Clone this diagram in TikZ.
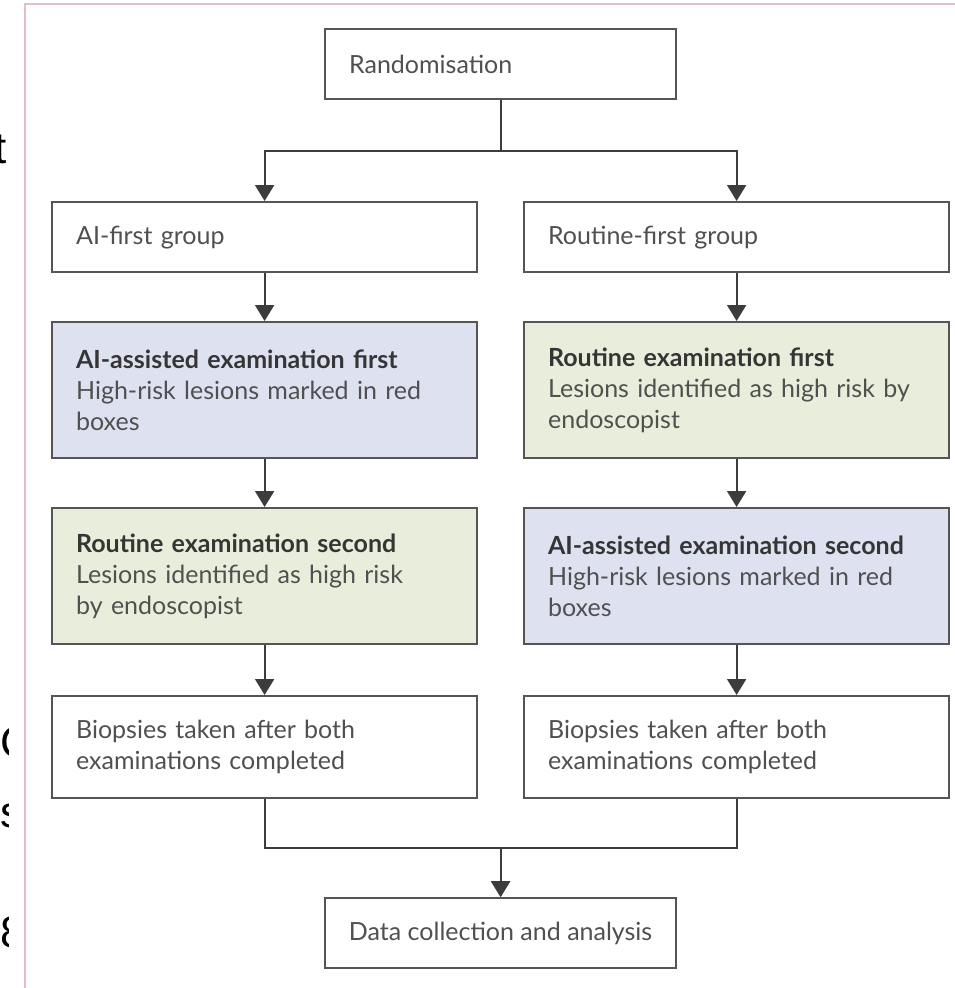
\documentclass[tikz,border=0pt]{standalone}
\usepackage{fontspec}
\setmainfont{Lato}
\newfontfamily\fragfont{Liberation Sans}
\usetikzlibrary{arrows.meta}
\definecolor{boxgray}{HTML}{555555}
\definecolor{linegray}{HTML}{3C3C3C}
\definecolor{txtgray}{HTML}{505050}
\definecolor{hdgray}{HTML}{353535}
\definecolor{bluefill}{HTML}{DEE1F0}
\definecolor{greenfill}{HTML}{E9EEDC}
\definecolor{pinkframe}{HTML}{E2BECA}
\tikzset{
  box/.style={draw=boxgray, line width=2.2pt, fill=white, inner xsep=24pt, inner ysep=0pt,
    align=left, anchor=north west, text=txtgray,
    font={\fontsize{25}{31}\selectfont}},
  arr/.style={draw=linegray, line width=2pt, -{Triangle[length=16pt,width=19pt]}},
  fragstyle/.style={inner sep=0pt, font={\fontsize{44}{44}\fragfont}}
}
\newcommand{\hdtext}[1]{{\bfseries\color{hdgray}#1}}
\begin{document}
\begin{tikzpicture}[x=1pt,y=-1pt]
\useasboundingbox (0,0) rectangle (955,988);
\fill[white] (0,0) rectangle (955,988);
% page frame
\draw[pinkframe, line width=2.5pt] (25,988) -- (25,4) -- (955,4);
% fragments of neighbouring text at the left edge
\begin{scope}
\clip (0,0) rectangle (8,988);
\node[fragstyle, anchor=base east] (frag1) at (7,163) {t};
\node[fragstyle, anchor=base west] (frag2) at (0,757) {C};
\node[fragstyle, anchor=base west] (frag3) at (0,827) {s};
\node[fragstyle, anchor=base west] (frag4) at (0,947) {8};
\end{scope}
% boxes
\node[box, text width=303pt, minimum height=70pt] (rand) at (324,28) {Randomisation};
\node[box, text width=377pt, minimum height=70pt] (aif) at (51,201) {AI-first group};
\node[box, text width=377pt, minimum height=70pt] (rff) at (523,201) {Routine-first group};
\node[box, fill=bluefill, text width=377pt, minimum height=136pt] (aie1) at (51,321)
  {\hdtext{AI-assisted examination first}\\High-risk lesions marked in red\\boxes};
\node[box, fill=greenfill, text width=377pt, minimum height=136pt] (rte1) at (523,321)
  {\hdtext{Routine examination first}\\Lesions identified as high risk by\\endoscopist};
\node[box, fill=greenfill, text width=377pt, minimum height=136pt] (rte2) at (51,507)
  {\hdtext{Routine examination second}\\Lesions identified as high risk\\by endoscopist};
\node[box, fill=bluefill, text width=377pt, minimum height=136pt] (aie2) at (523,507)
  {\hdtext{AI-assisted examination second}\\High-risk lesions marked in red\\boxes};
\node[box, text width=377pt, minimum height=102pt] (bio1) at (51,695)
  {Biopsies taken after both\\examinations completed};
\node[box, text width=377pt, minimum height=102pt] (bio2) at (523,695)
  {Biopsies taken after both\\examinations completed};
\node[box, inner xsep=0pt, align=center, minimum width=351pt, minimum height=70pt] (data) at (324,897) {Data collection and analysis};
% connectors
\draw[arr] (rand.south) -- ++(0,51) -| (aif.north);
\draw[arr] (rand.south) -- ++(0,51) -| (rff.north);
\draw[arr] (aif.south) -- (aie1.north);
\draw[arr] (rff.south) -- (rte1.north);
\draw[arr] (aie1.south) -- (rte2.north);
\draw[arr] (rte1.south) -- (aie2.north);
\draw[arr] (rte2.south) -- (bio1.north);
\draw[arr] (aie2.south) -- (bio2.north);
\draw[arr] (bio1.south) -- ++(0,49) -| (data.north);
\draw[arr] (bio2.south) -- ++(0,49) -| (data.north);
\end{tikzpicture}
\end{document}
